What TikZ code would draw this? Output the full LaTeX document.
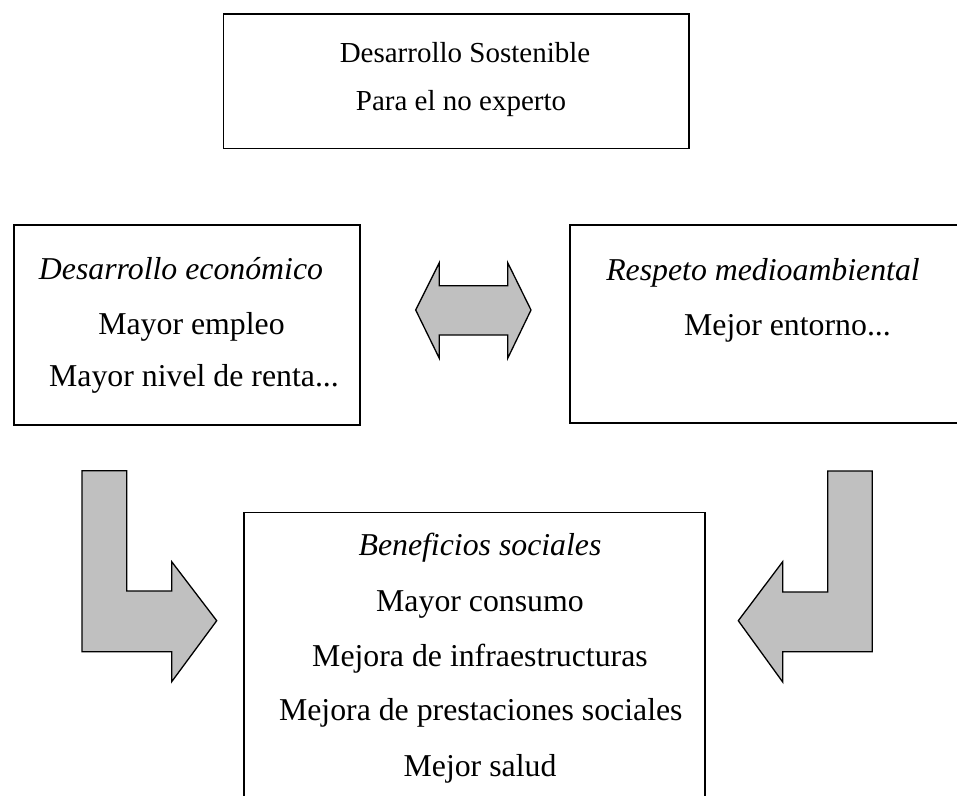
\documentclass[tikz,border=0pt]{standalone}
\usepackage{fontspec}
\setmainfont{Liberation Serif}
\definecolor{arrowgray}{HTML}{C0C0C0}
\begin{document}
\begin{tikzpicture}[x=1pt,y=-1pt,
  box/.style={draw, line width=1.5pt, anchor=north west, inner sep=0pt, rectangle},
  blockarrow/.style={draw, line width=1.3pt, fill=arrowgray, line join=miter},
  txt/.style={anchor=base, inner sep=0pt, font=\fontsize{31.8}{32}\selectfont},
  toptxt/.style={anchor=base, inner sep=0pt, font=\fontsize{29}{30}\selectfont}]
\useasboundingbox (0,0) rectangle (957,795);
\clip (0,0) rectangle (957,795);
\fill[white] (0,0) rectangle (957,795);
% boxes
\node[box, minimum width=465.6pt, minimum height=134.4pt] (top) at (222.7,13.3) {};
\node[box, minimum width=345.7pt, minimum height=200.3pt] (eco) at (13.3,224) {};
\node[box, minimum width=430.7pt, minimum height=198pt] (env) at (569.3,224.3) {};
\node[box, minimum width=460.7pt, minimum height=338.3pt] (soc) at (243.3,511.7) {};
% texts
\node[toptxt] (t1) at (465,62.3) {Desarrollo Sostenible};
\node[toptxt] (t2) at (461,110) {Para el no experto};
\node[txt] (e1) at (181,279.3) {\itshape Desarrollo económico};
\node[txt] (e2) at (191.5,334) {Mayor empleo};
\node[txt] (e3) at (194,386.7) {Mayor nivel de renta...};
\node[txt] (r1) at (763,280) {\itshape Respeto medioambiental};
\node[txt] (r2) at (787.5,335) {Mejor entorno...};
\node[txt] (s1) at (480,555) {\itshape Beneficios sociales};
\node[txt] (s2) at (480,611.7) {Mayor consumo};
\node[txt] (s3) at (480,666.7) {Mejora de infraestructuras};
\node[txt] (s4) at (480.8,720.7) {Mejora de prestaciones sociales};
\node[txt] (s5) at (480,776.7) {Mejor salud};
% block arrows
\draw[blockarrow] (415.7,310) -- (439.3,262.7) -- (439.3,285.7) -- (507.7,285.7) -- (507.7,262.7) -- (531,310) -- (507.7,358.3) -- (507.7,335) -- (439.3,335) -- (439.3,358.3) -- cycle;
\draw[blockarrow] (82,470.7) -- (126.7,470.7) -- (126.7,591) -- (171.7,591) -- (171.7,561.7) -- (216.7,620.7) -- (171.7,681.7) -- (171.7,651.7) -- (82,651.7) -- cycle;
\draw[blockarrow] (872.3,471) -- (827.7,471) -- (827.7,592) -- (782.7,592) -- (782.7,561.7) -- (738.3,620.7) -- (782.7,682) -- (782.7,651.7) -- (872.3,651.7) -- cycle;
\end{tikzpicture}
\end{document}
